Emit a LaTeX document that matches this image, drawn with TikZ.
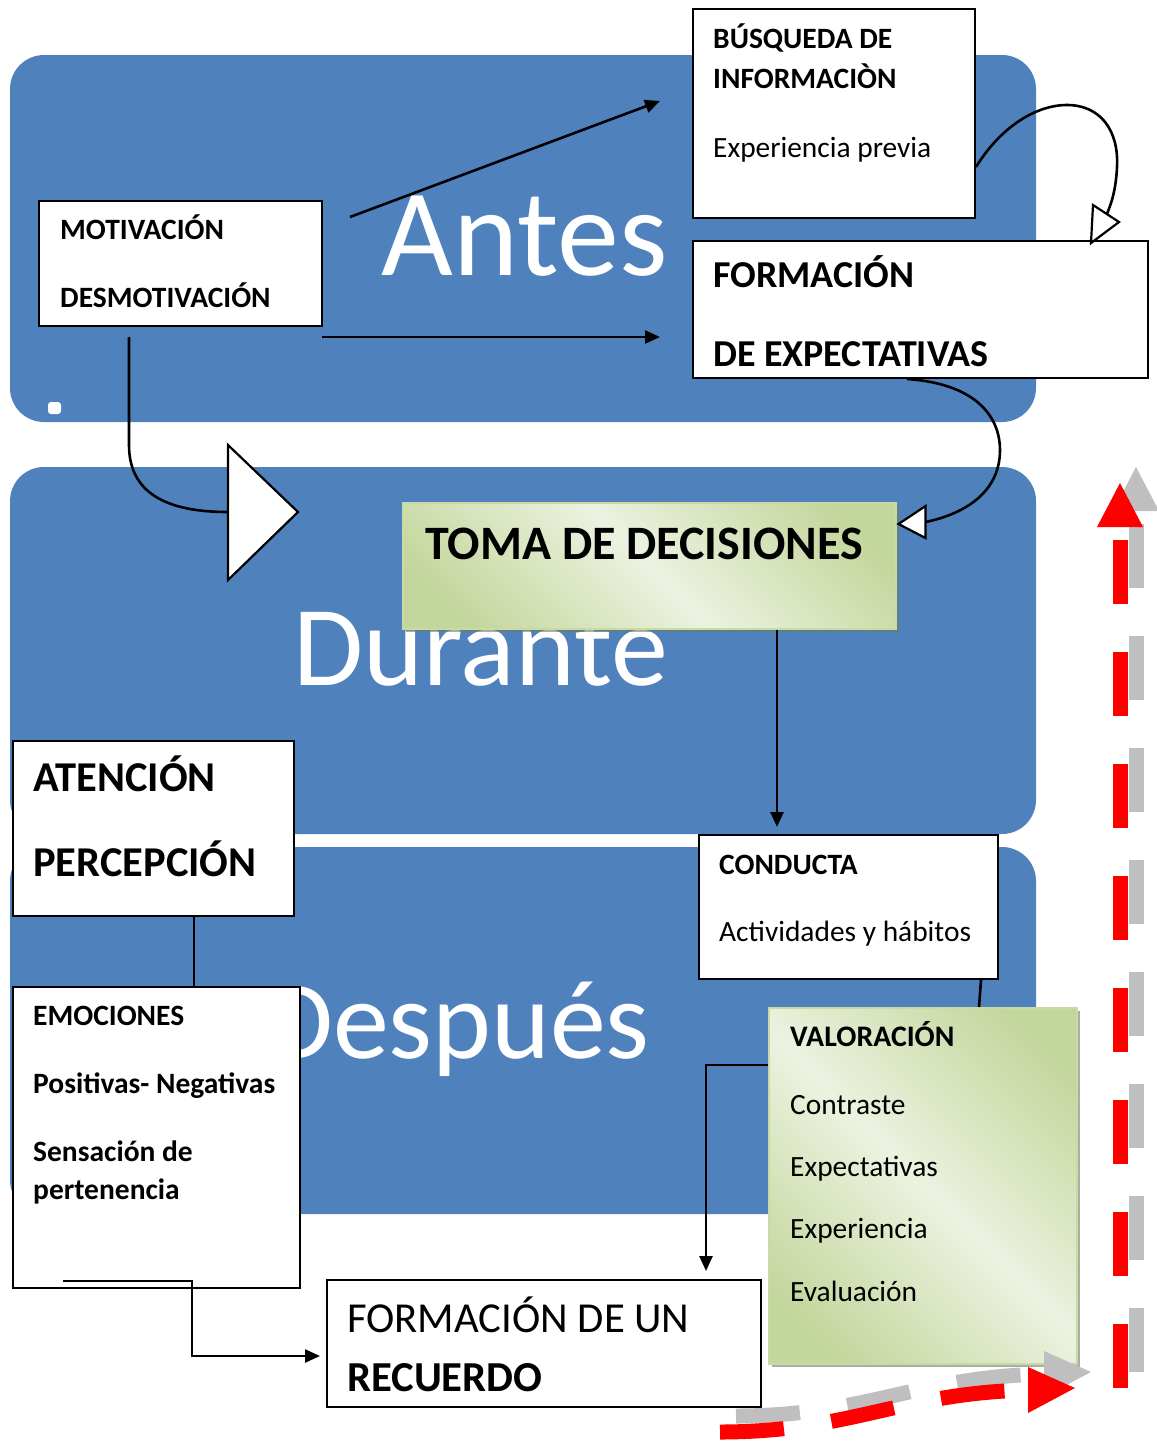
\documentclass[tikz,border=0pt]{standalone}
\usepackage{fontspec}
\setmainfont{Carlito}
\usetikzlibrary{arrows.meta,calc}
\definecolor{band}{RGB}{79,129,189}
\definecolor{gdark}{RGB}{195,214,155}
\definecolor{glight}{RGB}{236,242,224}
\definecolor{gborder}{RGB}{200,218,165}
\definecolor{gshadow}{RGB}{110,125,95}
\definecolor{dred}{RGB}{255,0,0}
\definecolor{dgray}{RGB}{191,191,191}
\pgfdeclarehorizontalshading{greendiag}{100bp}{color(0bp)=(gdark); color(22bp)=(gdark); color(50bp)=(glight); color(78bp)=(gdark); color(100bp)=(gdark)}
\tikzset{
  bandbox/.style={fill=band, rounded corners=34pt},
  box/.style={draw=black, line width=2pt, fill=white, inner sep=0pt, anchor=north west},
  gbox/.style={draw=gborder, line width=1.5pt, shading=greendiag, shading angle=45, inner sep=0pt, anchor=north west},
  txt/.style={anchor=base west, inner sep=0pt, font=\fontsize{29.4}{35}\selectfont},
  txtb/.style={anchor=base west, inner sep=0pt, font=\fontsize{29.5}{35}\selectfont\bfseries},
  bigtxt/.style={text=white, inner sep=0pt, anchor=base east},
  conn/.style={line width=2.6pt, -{Triangle[length=15pt,width=13pt]}},
  plainline/.style={line width=2.6pt},
  hollow/.style={draw=black, line width=2.2pt, fill=white, line join=miter},
  dashline/.style={line width=15pt, dash pattern=on 64pt off 48pt},
}
\begin{document}
\begin{tikzpicture}[x=1pt,y=-1pt]
\useasboundingbox (0,0) rectangle (1157,1441);
% bands
\path[bandbox] (10,55) rectangle (1036,422);
\path[bandbox] (10,467) rectangle (1036,834);
\path[bandbox] (10,847) rectangle (1036,1214);
\path[fill=white, rounded corners=3pt] (48,402) rectangle (61,414);
% big labels
\node[bigtxt, font=\fontsize{124}{130}\selectfont] (tantes) at (668,275) {Antes};
\node[bigtxt, font=\fontsize{114}{124}\selectfont] (tdur) at (668,685) {Durante};
\node[bigtxt, font=\fontsize{112}{120}\selectfont] (tdesp) at (650,1058) {Después};
% boxes
\node[box, minimum width=282pt, minimum height=209pt] (busq) at (692,8) {};
\node[box, minimum width=455pt, minimum height=137pt] (form) at (692,240) {};
\node[box, minimum width=283pt, minimum height=125pt] (motiv) at (38,200) {};
\fill[gshadow, opacity=0.6] (406,506) rectangle (899,632);
\node[gbox, minimum width=493pt, minimum height=126pt] (toma) at (402,502) {};
\node[box, minimum width=281pt, minimum height=175pt] (aten) at (12,740) {};
\node[box, minimum width=287pt, minimum height=301pt] (emoc) at (12,986) {};
\node[box, minimum width=299pt, minimum height=144pt] (cond) at (698,834) {};
\fill[gshadow, opacity=0.6] (772,1011) rectangle (1080,1367);
\node[gbox, minimum width=308pt, minimum height=356pt] (valor) at (768,1007) {};
\node[box, minimum width=434pt, minimum height=127pt] (recu) at (326,1279) {};
% texts
\node[txtb] (t1) at (713,48) {BÚSQUEDA DE};
\node[txtb] (t2) at (713,88) {INFORMACIÒN};
\node[txt] (t3) at (713,157) {Experiencia previa};
\node[txtb, font=\fontsize{38}{44}\selectfont\bfseries] (t4) at (713,287) {FORMACIÓN};
\node[txtb, font=\fontsize{38}{44}\selectfont\bfseries] (t5) at (713,366) {DE EXPECTATIVAS};
\node[txtb] (t6) at (60,239) {MOTIVACIÓN};
\node[txtb] (t7) at (60,307) {DESMOTIVACIÓN};
\node[txtb, font=\fontsize{48}{54}\selectfont\bfseries] (t8) at (425,559) {TOMA DE DECISIONES};
\node[txtb, font=\fontsize{42.5}{48}\selectfont\bfseries] (t9) at (33,791) {ATENCIÓN};
\node[txtb, font=\fontsize{42.5}{48}\selectfont\bfseries] (t10) at (33,876) {PERCEPCIÓN};
\node[txtb] (t11) at (33,1025) {EMOCIONES};
\node[txtb] (t12) at (33,1093) {Positivas- Negativas};
\node[txtb] (t13) at (33,1161) {Sensación de};
\node[txtb] (t14) at (33,1199) {pertenencia};
\node[txtb] (t15) at (719,874) {CONDUCTA};
\node[txt] (t16) at (719,941) {Actividades y hábitos};
\node[txtb, font=\fontsize{29.8}{35}\selectfont\bfseries] (t17) at (790,1046) {VALORACIÓN};
\node[txt] (t18) at (790,1114) {Contraste};
\node[txt] (t19) at (790,1176) {Expectativas};
\node[txt] (t20) at (790,1238) {Experiencia};
\node[txt] (t21) at (790,1301) {Evaluación};
\node[txt, font=\fontsize{42.7}{48}\selectfont] (t22) at (347,1332) {FORMACIÓN DE UN};
\node[txtb, font=\fontsize{42.7}{48}\selectfont\bfseries] (t23) at (347,1391) {RECUERDO};
% connectors
\draw[conn] ($(motiv.north east)+(27,17)$) -- ($(busq.north west)+(-32,93)$);
\draw[conn] ($(motiv.south east)+(-1,10)$) -- ($(form.south west)+(-32,-42)$);
\coordinate (bt) at ($(motiv.south west)+(190,185)$);
\draw[plainline] ($(motiv.south west)+(91,10)$) -- ($(motiv.south west)+(91,118)$)
   .. controls ($(motiv.south west)+(91,170)$) and ($(motiv.south west)+(135,185)$) .. (bt);
\draw[hollow] (bt) -- ++(0,-67) -- ++(70,67) -- ++(-70,68) -- cycle;
\coordinate (lt) at ($(form.north west)+(401,-35)$);
\draw[plainline] ($(busq.east)+(0,53.5)$) .. controls (1000,128) and (1035,105) .. (1067,105)
   .. controls (1100,105) and (1119,130) .. (1117,167)
   .. controls (1116,190) and (1111,205) .. (1106,216);
\draw[hollow] (lt) -- ++(26,17) -- ++(-28,21) -- cycle;
\coordinate (rt) at ($(toma.north east)+(2,22)$);
\draw[plainline] ($(form.south west)+(215,0)$) .. controls (980,384) and (1000,420) .. (1000,450)
   .. controls (1000,495) and (960,515) .. ($(rt)+(27,-2)$);
\draw[hollow] (rt) -- ++(27,-18) -- ++(0,32) -- cycle;
\draw[conn] ($(toma.south west)+(375,0)$) -- ($(cond.north west)+(79,-7)$);
\draw[plainline] ($(aten.south west)+(182,0)$) -- ($(emoc.north west)+(182,0)$);
\draw[plainline] ($(cond.south east)+(-18,0)$) -- ($(valor.north west)+(211,0)$);
\draw[conn] ($(valor.north west)+(0,58)$) -| ($(recu.north west)+(380,-8)$);
\draw[conn] ($(emoc.south west)+(51,-8)$) -| ($(recu.west)+(-134,12.5)$) -- ($(recu.west)+(-6,12.5)$);
% dashed red/gray arrows
\begin{scope}[shift={(16,-16)}]
  \draw[dashline, dgray] (1120,1388) -- (1120,527);
  \fill[dgray] (1097,527) -- (1143,527) -- (1120,483) -- cycle;
  \draw[dashline, dgray] (720,1432) .. controls (850,1432) and (900,1393) .. (1028,1390);
  \fill[dgray] (1028,1367) -- (1075,1388) -- (1028,1413) -- cycle;
\end{scope}
\draw[dashline, dred] (1120,1388) -- (1120,527);
\fill[dred] (1097,527) -- (1143,527) -- (1120,483) -- cycle;
\draw[dashline, dred] (720,1432) .. controls (850,1432) and (900,1393) .. (1028,1390);
\fill[dred] (1028,1367) -- (1075,1388) -- (1028,1413) -- cycle;
\end{tikzpicture}
\end{document}
